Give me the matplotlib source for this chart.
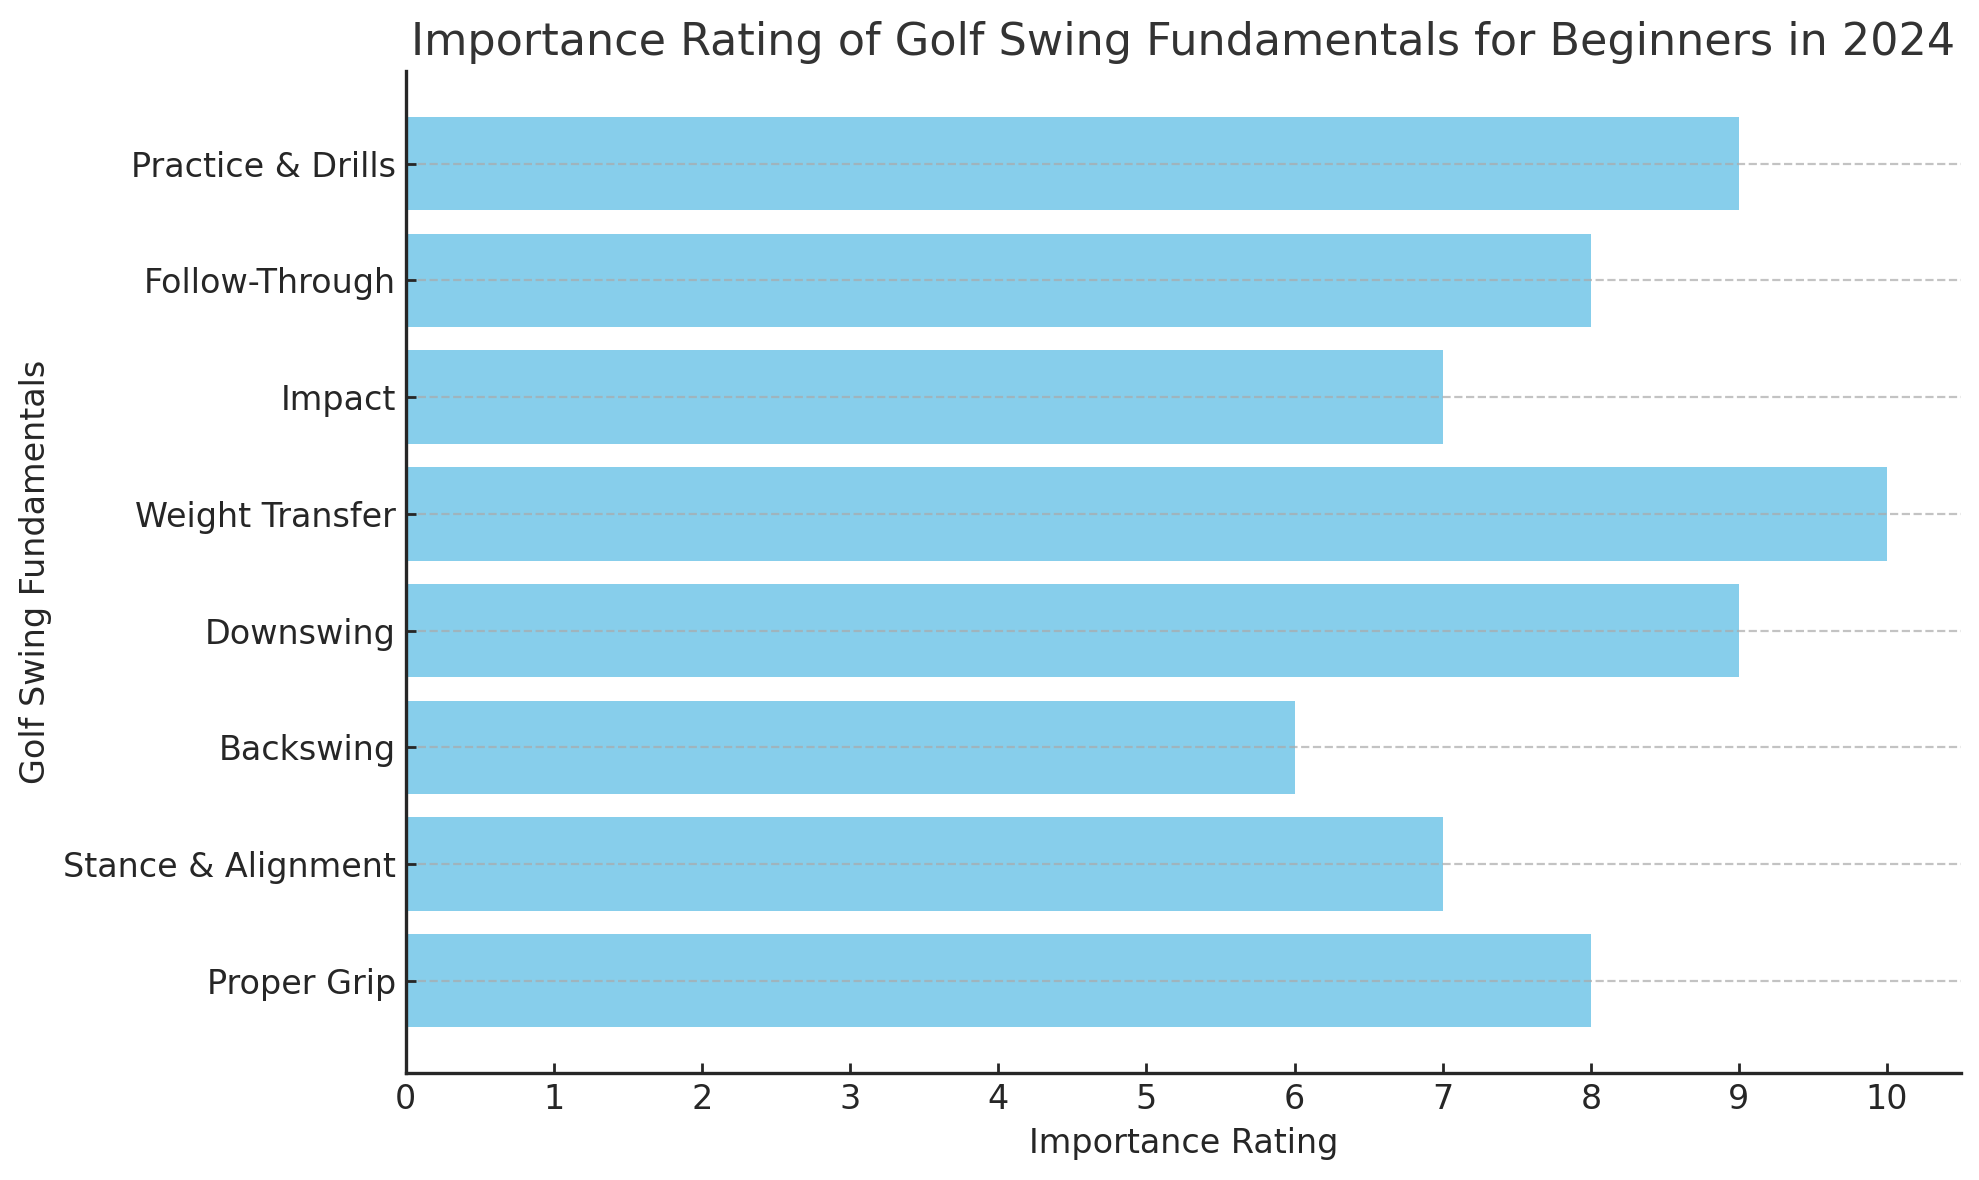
import matplotlib.pyplot as plt

# 골프 스윙 기본 요소별 중요도
fundamentals = ['Proper Grip', 'Stance & Alignment', 'Backswing', 'Downswing',
                'Weight Transfer', 'Impact', 'Follow-Through', 'Practice & Drills']
ratings = [8, 7, 6, 9, 10, 7, 8, 9]

plt.rcParams['font.family'] = ['DejaVu Sans']
text_color = '#262626'

fig = plt.figure(figsize=(9.895, 5.9), dpi=200)
ax = fig.add_axes([0.205, 0.0907, 0.991 - 0.205, 0.9395 - 0.0907])

ax.barh(fundamentals, ratings, height=0.8, color='skyblue')
ax.set_xlim(0, 10.5)
ax.set_xticks(range(0, 11))

ax.grid(axis='y', linestyle='--', color='#aaaaaa', alpha=0.7, linewidth=0.8)

ax.set_title('Importance Rating of Golf Swing Fundamentals for Beginners in 2024',
             fontsize=16, color='#333333', pad=6)
ax.set_xlabel('Importance Rating', fontsize=12, color=text_color)
ax.set_ylabel('Golf Swing Fundamentals', fontsize=12, color=text_color)
ax.tick_params(axis='both', direction='in', labelsize=12, colors=text_color,
               width=1, length=3.5)

ax.spines['top'].set_visible(False)
ax.spines['right'].set_visible(False)
for side in ['left', 'bottom']:
    ax.spines[side].set_color(text_color)
    ax.spines[side].set_linewidth(1.2)

fig.savefig('out.png', dpi=200)
